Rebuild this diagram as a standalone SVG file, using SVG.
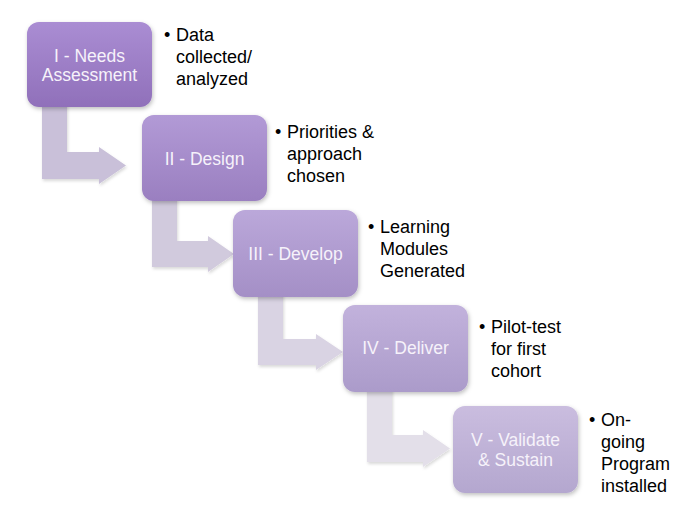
<svg xmlns="http://www.w3.org/2000/svg" width="700" height="525" viewBox="0 0 700 525">
<style>
  .box { stroke: none; }
  .label { font-family: "Liberation Sans", Arial, sans-serif; font-size: 17.5px; fill: #f6f2fa; text-anchor: middle; }
  .bullet { font-family: "Liberation Sans", Arial, sans-serif; font-size: 18px; fill: #000000; }
</style>
<defs>
  <filter id="sh" x="-20%" y="-20%" width="140%" height="140%">
    <feDropShadow dx="1" dy="2" stdDeviation="2" flood-color="#000" flood-opacity="0.25"/>
  </filter>
  <filter id="ash" x="-20%" y="-20%" width="140%" height="140%">
    <feDropShadow dx="1" dy="2" stdDeviation="1.5" flood-color="#000" flood-opacity="0.15"/>
  </filter>
  <linearGradient id="g1" x1="0" y1="0" x2="0" y2="1"><stop offset="0" stop-color="#aa8dd3"/><stop offset="1" stop-color="#9070ba"/></linearGradient>
  <linearGradient id="g2" x1="0" y1="0" x2="0" y2="1"><stop offset="0" stop-color="#b29ad6"/><stop offset="1" stop-color="#9a7fc0"/></linearGradient>
  <linearGradient id="g3" x1="0" y1="0" x2="0" y2="1"><stop offset="0" stop-color="#bba8da"/><stop offset="1" stop-color="#a48fc6"/></linearGradient>
  <linearGradient id="g4" x1="0" y1="0" x2="0" y2="1"><stop offset="0" stop-color="#c2b2dc"/><stop offset="1" stop-color="#ab9bca"/></linearGradient>
  <linearGradient id="g5" x1="0" y1="0" x2="0" y2="1"><stop offset="0" stop-color="#cabddf"/><stop offset="1" stop-color="#b4a7cf"/></linearGradient>
</defs>
<rect width="700" height="525" fill="#ffffff"/>
<g id="connectors" filter="url(#ash)">
  <path d="M42,100 L67,100 L67,152 L99,152 L99,147 L126,165.5 L99,184 L99,179 L42,179 Z" fill="#c9c0d9"/>
  <path d="M152,195 L177,195 L177,241 L208,241 L208,236 L234,254 L208,272 L208,267 L152,267 Z" fill="#d1cadd"/>
  <path d="M258,290 L283,290 L283,339 L316,339 L316,334 L343,352 L316,370 L316,365 L258,365 Z" fill="#d9d3e3"/>
  <path d="M367,385 L392,385 L392,435 L423,435 L423,430 L450,448.5 L423,467 L423,462 L367,462 Z" fill="#e3dfe9"/>
</g>
<g id="node1">
  <rect class="box" x="27" y="22" width="125" height="85" rx="12" fill="url(#g1)" filter="url(#sh)"/>
  <text class="label" x="89.5" y="62">I - Needs</text>
  <text class="label" x="89.5" y="81">Assessment</text>
  <text class="bullet" x="164" y="41">•</text>
  <text class="bullet" x="176" y="41">Data</text>
  <text class="bullet" x="176" y="63">collected/</text>
  <text class="bullet" x="176" y="85">analyzed</text>
</g>
<g id="node2">
  <rect class="box" x="142" y="115" width="125" height="86" rx="12" fill="url(#g2)" filter="url(#sh)"/>
  <text class="label" x="204.5" y="165">II - Design</text>
  <text class="bullet" x="275" y="138">•</text>
  <text class="bullet" x="287" y="138">Priorities &amp;</text>
  <text class="bullet" x="287" y="160">approach</text>
  <text class="bullet" x="287" y="182">chosen</text>
</g>
<g id="node3">
  <rect class="box" x="233" y="210" width="125" height="87" rx="12" fill="url(#g3)" filter="url(#sh)"/>
  <text class="label" x="295.5" y="260">III - Develop</text>
  <text class="bullet" x="368" y="233">•</text>
  <text class="bullet" x="380" y="233">Learning</text>
  <text class="bullet" x="380" y="255">Modules</text>
  <text class="bullet" x="380" y="277">Generated</text>
</g>
<g id="node4">
  <rect class="box" x="343" y="305" width="125" height="87" rx="12" fill="url(#g4)" filter="url(#sh)"/>
  <text class="label" x="405.5" y="354">IV - Deliver</text>
  <text class="bullet" x="479" y="333">•</text>
  <text class="bullet" x="491" y="333">Pilot-test</text>
  <text class="bullet" x="491" y="355">for first</text>
  <text class="bullet" x="491" y="377">cohort</text>
</g>
<g id="node5">
  <rect class="box" x="453" y="406" width="125" height="87" rx="12" fill="url(#g5)" filter="url(#sh)"/>
  <text class="label" x="515.5" y="446">V - Validate</text>
  <text class="label" x="515.5" y="466">&amp; Sustain</text>
  <text class="bullet" x="589" y="426">•</text>
  <text class="bullet" x="601" y="426">On-</text>
  <text class="bullet" x="601" y="448">going</text>
  <text class="bullet" x="601" y="470">Program</text>
  <text class="bullet" x="601" y="492">installed</text>
</g>
</svg>
